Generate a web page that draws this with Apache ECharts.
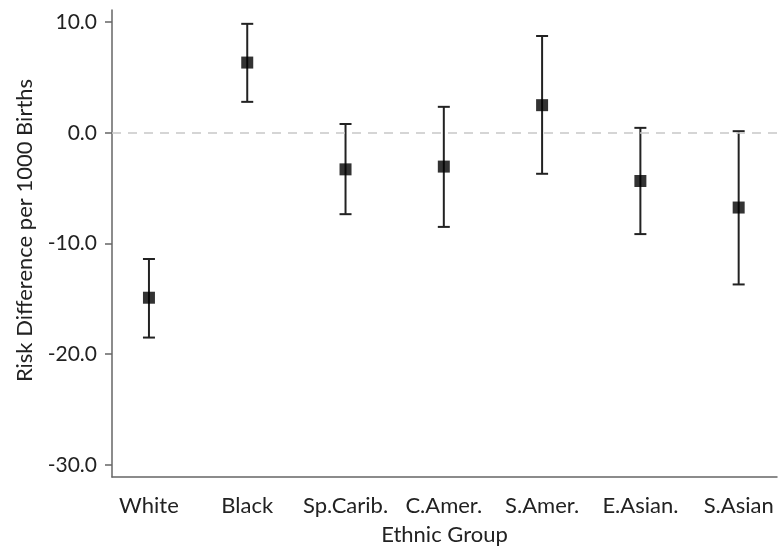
<!DOCTYPE html>
<html>
<head>
<meta charset="utf-8">
<script src="https://cdn.jsdelivr.net/npm/echarts@6/dist/echarts.min.js"></script>
<style>html,body{margin:0;padding:0;background:#fff;}#c{width:778px;height:551px;}</style>
</head>
<body>
<div id="c"></div>
<script>
const categories = ['White', 'Black', 'Sp.Carib.', 'C.Amer.', 'S.Amer.', 'E.Asian.', 'S.Asian'];
const estimates = [-14.9, 6.35, -3.3, -3.05, 2.5, -4.35, -6.75];
const lowerCI = [-18.5, 2.8, -7.35, -8.5, -3.7, -9.15, -13.7];
const upperCI = [-11.4, 9.85, 0.8, 2.35, 8.75, 0.45, 0.15];
const yTicks = [-30, -20, -10, 0, 10];
const xPositions = categories.map((c, i) => i);

const FONT = 'Lato, "Open Sans", sans-serif';
const chart = echarts.init(document.getElementById('c'));
chart.setOption({
  animation: false,
  backgroundColor: '#fff',
  grid: { left: 112, right: 1, top: 10, bottom: 71, containLabel: false },
  xAxis: {
    type: 'value', min: -0.376, max: 6.39,
    axisLine: { show: true, onZero: false, lineStyle: { color: '#666', width: 1.5 } },
    axisTick: { show: false },
    splitLine: { show: false },
    axisLabel: {
      customValues: xPositions,
      formatter: v => categories[Math.round(v)],
      margin: 18, fontSize: 22, color: '#222', fontFamily: FONT
    },
    name: 'Ethnic Group', nameLocation: 'middle', nameGap: 47,
    nameTextStyle: { fontSize: 22, color: '#222', fontFamily: FONT }
  },
  yAxis: {
    type: 'value', min: -31.1, max: 11.1,
    axisLine: { show: true, onZero: false, lineStyle: { color: '#666', width: 1.5 } },
    axisTick: { show: true, customValues: yTicks, length: 7, lineStyle: { color: '#666', width: 1.5 } },
    splitLine: { show: false },
    axisLabel: {
      customValues: yTicks,
      formatter: v => v.toFixed(1),
      margin: 15, fontSize: 21, color: '#222', fontFamily: FONT
    },
    name: 'Risk Difference per 1000 Births', nameLocation: 'middle', nameGap: 76,
    nameTextStyle: { fontSize: 22, color: '#222', fontFamily: FONT, padding: [0, 0, 0, 26] }
  },
  series: [
    {
      type: 'custom',
      data: xPositions.map(i => [i, lowerCI[i], upperCI[i]]),
      renderItem: function (params, api) {
        const x = api.value(0);
        const lo = api.coord([x, api.value(1)]);
        const hi = api.coord([x, api.value(2)]);
        const hw = 6;
        const style = { stroke: '#222', lineWidth: 2 };
        return {
          type: 'group',
          children: [
            { type: 'line', shape: { x1: lo[0], y1: lo[1], x2: hi[0], y2: hi[1] }, style: style },
            { type: 'line', shape: { x1: lo[0] - hw, y1: lo[1], x2: lo[0] + hw, y2: lo[1] }, style: style },
            { type: 'line', shape: { x1: hi[0] - hw, y1: hi[1], x2: hi[0] + hw, y2: hi[1] }, style: style }
          ]
        };
      },
      markLine: {
        silent: true, symbol: 'none', label: { show: false },
        lineStyle: { color: '#c8c8c8', type: [9, 7], width: 1.5 },
        data: [{ yAxis: 0 }]
      },
      z: 2
    },
    {
      type: 'scatter',
      data: xPositions.map(i => [i, estimates[i]]),
      symbol: 'rect', symbolSize: 12,
      itemStyle: { color: '#000' },
      z: 3
    }
  ]
});
</script>
</body>
</html>
